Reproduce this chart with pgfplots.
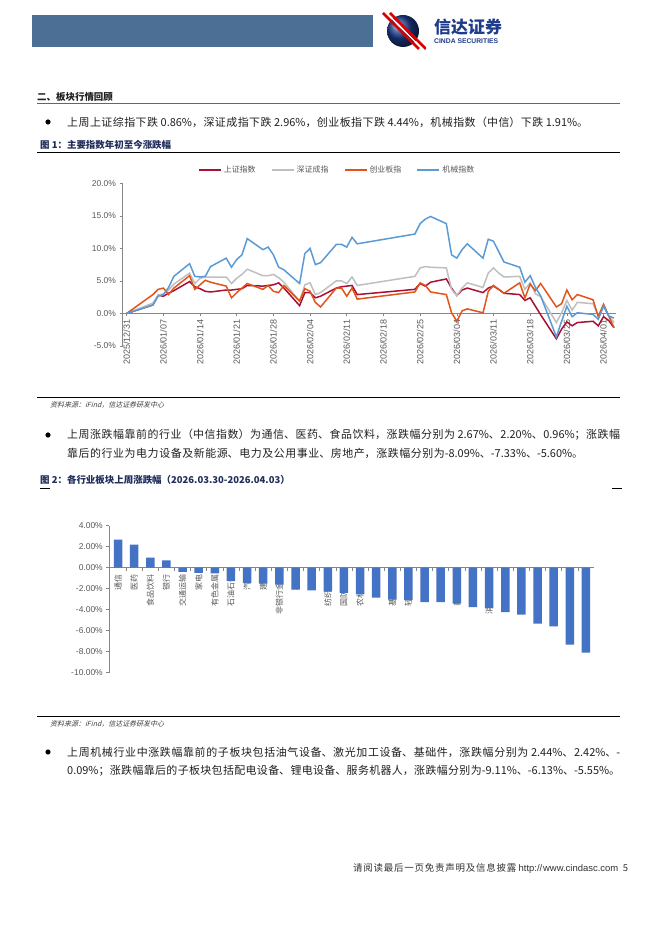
\documentclass[border=0pt]{standalone}
\usepackage{pgfplots}
\pgfplotsset{compat=1.18}
\usepackage{pgfplotstable}
\usepackage{fontspec}
\setmainfont{Noto Sans CJK SC}
\newfontfamily\arial{Liberation Sans}
\newfontfamily\cjkit{Noto Sans CJK SC}[FakeSlant=0.25]
\XeTeXlinebreaklocale "zh"
\XeTeXlinebreakskip=0.2pt plus 3pt minus 0.6pt

\definecolor{hdrblue}{RGB}{76,111,150}
\definecolor{navy}{RGB}{31,45,90}
\definecolor{logoblue}{RGB}{30,60,140}
\definecolor{shred}{RGB}{170,16,50}
\definecolor{szgray}{RGB}{191,191,191}
\definecolor{cyorange}{RGB}{226,84,26}
\definecolor{jxblue}{RGB}{91,155,213}
\definecolor{barblue}{RGB}{68,114,196}
\definecolor{txtgray}{RGB}{89,89,89}
\definecolor{axgray}{RGB}{134,134,134}
\definecolor{bodytxt}{RGB}{35,31,32}

\pgfplotstableread{
d sh sz cy jx
0 0 0 0 0
5 1.3 1.6 2.9 1.3
6 2.8 2.8 3.7 2.65
7 2.65 3.0 3.9 2.9
8 3.1 3.6 2.9 4.0
9 3.5 4.5 3.9 5.7
12 4.9 6.2 5.8 7.65
13 4.1 4.6 3.7 5.7
14 3.8 5.4 4.4 5.6
15 3.4 5.6 5.1 5.7
16 3.3 5.6 4.8 7.2
19 3.6 5.6 4.2 8.5
20 3.6 4.6 2.4 7.1
21 3.7 5.4 3.2 8.3
22 3.8 6.0 3.9 9.0
23 4.3 6.8 4.6 11.5
26 4.2 5.8 3.7 9.8
27 4.3 5.8 4.3 10.2
28 4.4 6.0 3.4 9.0
29 4.7 5.5 3.2 7.1
30 3.9 4.8 4.3 6.7
33 1.2 1.9 1.9 4.6
34 3.2 4.4 3.8 9.2
35 3.2 4.7 3.4 10.0
36 2.4 2.9 1.7 7.5
37 2.65 3.2 1.0 7.8
40 3.9 5.0 3.9 10.6
41 4.1 5.0 3.9 10.6
42 4.2 4.6 2.65 10.2
43 4.3 5.6 3.9 11.7
44 2.9 4.3 2.2 10.7
55 3.7 5.7 3.3 12.2
56 4.6 7.0 4.7 13.8
57 4.2 7.2 4.3 14.5
58 4.8 7.1 3.3 14.9
61 5.3 7.0 2.9 13.8
62 3.9 3.7 0.1 9.0
63 2.75 2.75 -1.2 8.5
64 3.6 3.9 0.4 9.8
65 3.9 4.7 0.7 10.7
68 3.2 4.0 0.1 8.5
69 3.9 6.2 3.4 11.4
70 4.2 7.0 4.3 11.1
71 3.7 6.2 3.7 9.5
72 3.1 5.6 3.1 7.9
75 2.9 5.7 4.7 7.1
76 2.0 3.7 2.4 4.8
77 2.4 4.7 4.5 5.8
78 1.1 3.0 3.5 4.0
79 -0.2 2.6 4.6 2.7
82 -3.9 -1.4 1.0 -3.6
83 -2.4 0.1 1.5 -1.2
84 -1.3 2.0 3.6 1.1
85 -1.9 0.5 2.1 -0.5
86 -1.4 1.7 2.9 0.1
89 -1.2 1.5 2.1 -0.15
90 -1.9 -0.4 -0.5 -0.9
91 -0.5 1.3 1.4 1.1
92 -1.1 -0.4 -0.4 -0.4
93 -2.2 -1.4 -2.2 -0.7
}\idxdata

\pgfplotstableread{
i v
0 2.67
1 2.20
2 0.96
3 0.70
4 -0.41
5 -0.50
6 -0.55
7 -1.27
8 -1.46
9 -1.52
10 -1.62
11 -2.10
12 -2.16
13 -2.29
14 -2.41
15 -2.54
16 -2.86
17 -3.05
18 -3.10
19 -3.27
20 -3.27
21 -3.43
22 -3.76
23 -3.86
24 -4.22
25 -4.48
26 -5.33
27 -5.60
28 -7.33
29 -8.09
}\inddata

\newcommand{\bodyfont}{\fontsize{11}{12}\selectfont}
\newcommand{\jline}[2]{\parbox{#1}{\parfillskip=0pt\parindent=0pt\rightskip=0pt\leftskip=0pt #2\par}}

\begin{document}
\begin{tikzpicture}[x=1bp,y=1bp]
\fill[white] (0,0) rectangle (662,936);

% header
\fill[hdrblue] (32,921) rectangle (373,889);
\shade[ball color=logoblue] (403,905) circle (16);
\begin{scope}
\clip (380,925) rectangle (426,884);
\draw[line width=2.6bp, red!85!black] (383,923) -- (419,887);
\draw[line width=1.2bp, white] (386.5,923) -- (422.5,887);
\draw[line width=2.6bp, red!85!black] (390,923) -- (426,887);
\end{scope}
\node[anchor=west, inner sep=0, text=logoblue, font=\bfseries\fontsize{17}{17}\selectfont] at (434,908.5) {信达证券};
\node[anchor=west, inner sep=0, text=logoblue, font=\arial\bfseries\fontsize{6.8}{7}\selectfont] at (434,894.5) {CINDA SECURITIES};

% section heading
\node[anchor=west, inner sep=0, text=bodytxt, font=\bfseries\fontsize{9.5}{10}\selectfont] at (37,839.5) {二、板块行情回顾};
\draw[line width=0.5bp, black!60] (37,833) -- (620,833);

% bullet 1
\fill[black] (48,814) circle (2.6);
\node[anchor=west, inner sep=0, text=bodytxt, font=\bodyfont] at (67,814) {\jline{521bp}{上周上证综指下跌 0.86\%，深证成指下跌 2.96\%，创业板指下跌 4.44\%，机械指数（中信）下跌 1.91\%。}};

% figure 1 title
\node[anchor=west, inner sep=0, text=navy, font=\bfseries\fontsize{9.5}{10}\selectfont] at (40,791) {图 1：主要指数年初至今涨跌幅};
\draw[line width=1bp, black] (37,783) -- (620,783);

\begin{axis}[
  at={(122.5bp,590bp)}, anchor=south west, scale only axis,
  width=493.6bp, height=162.7bp,
  xmin=-0.8, xmax=93.4, ymin=-5, ymax=20,
  axis x line=middle, axis y line=left,
  axis line style={-, draw=axgray, line width=0.6bp},
  hide obscured x ticks=false, hide obscured y ticks=false,
  xtick={0,7,...,91},
  xticklabels={2025/12/31,2026/01/07,2026/01/14,2026/01/21,2026/01/28,2026/02/04,2026/02/11,2026/02/18,2026/02/25,2026/03/04,2026/03/11,2026/03/18,2026/03/25,2026/04/01},
  xticklabel style={rotate=90, anchor=east, font=\arial\fontsize{9}{9}\selectfont, text=txtgray},
  ytick={-5,0,...,20},
  yticklabel={\pgfmathprintnumber[fixed,fixed zerofill,precision=1,assume math mode=true]{\tick}\%},
  yticklabel style={font=\arial\fontsize{8.5}{9}\selectfont, text=txtgray},
  tick style={draw=axgray, line width=0.6bp},
  major tick length=3bp,
  xtick align=outside, ytick align=outside,
  legend style={at={(0.4346,1.082)}, anchor=center, draw=none, fill=none,
    legend columns=4, font=\fontsize{8}{8}\selectfont, text=txtgray,
    /tikz/every even column/.append style={column sep=13bp}},
  legend image code/.code={\draw[#1, line width=2bp] (0bp,0bp) -- (22bp,0bp);},
]
\addplot[shred, line width=1.5bp] table[x=d,y=sh]{\idxdata};
\addlegendentry{上证指数}
\addplot[szgray, line width=1.5bp] table[x=d,y=sz]{\idxdata};
\addlegendentry{深证成指}
\addplot[cyorange, line width=1.5bp] table[x=d,y=cy]{\idxdata};
\addlegendentry{创业板指}
\addplot[jxblue, line width=1.5bp] table[x=d,y=jx]{\idxdata};
\addlegendentry{机械指数}
\end{axis}

% source 1
\draw[line width=0.8bp, black] (37,538.3) -- (620,538.3);
\node[anchor=west, inner sep=0, text=black!75, font=\cjkit\fontsize{7}{8}\selectfont] at (50,531) {资料来源：iFind，信达证券研发中心};

% bullet 2
\fill[black] (48,501) circle (2.6);
\node[anchor=west, inner sep=0, text=bodytxt, font=\bodyfont] at (67,501) {\jline{553bp}{上周涨跌幅靠前的行业（中信指数）为通信、医药、食品饮料，涨跌幅分别为 2.67\%、2.20\%、0.96\%；涨跌幅}};
\node[anchor=west, inner sep=0, text=bodytxt, font=\bodyfont] at (67,483) {\jline{516bp}{靠后的行业为电力设备及新能源、电力及公用事业、房地产，涨跌幅分别为-8.09\%、-7.33\%、-5.60\%。}};

% figure 2 title
\node[anchor=west, inner sep=0, text=navy, font=\bfseries\fontsize{9.5}{10}\selectfont] at (40,456) {图 2：各行业板块上周涨跌幅（2026.03.30-2026.04.03）};
\draw[line width=0.8bp, black] (40,448) -- (50,448);
\draw[line width=0.8bp, black] (612,448) -- (622,448);

\begin{axis}[
  at={(109.3bp,263.3bp)}, anchor=south west, scale only axis,
  width=484.7bp, height=147bp,
  xmin=-0.54, xmax=29.5, ymin=-10, ymax=4,
  axis x line=middle, axis y line=left,
  axis line style={-, draw=axgray, line width=0.6bp},
  hide obscured x ticks=false, hide obscured y ticks=false,
  ybar, bar width=8.5bp,
  xtick={0,...,29},
  xticklabels={通信,医药,食品饮料,银行,交通运输,家电,有色金属,石油石化,汽车,建筑,非银行金融,机械,钢铁,纺织服装,国防军工,农林牧渔,煤炭,基础化工,轻工制造,综合,建材,商贸零售,综合金融,消费者服务,传媒,电子,计算机,房地产,电力及公用事业,电力设备及新能源},
  xticklabel style={rotate=90, anchor=east, font=\fontsize{8}{8}\selectfont, text=txtgray},
  major x tick style={draw=none},
  minor x tick num=1,
  minor tick length=3bp,
  minor x tick style={draw=axgray, line width=0.6bp},
  ytick={-10,-8,...,4},
  yticklabel={\pgfmathprintnumber[fixed,fixed zerofill,precision=2,assume math mode=true]{\tick}\%},
  yticklabel style={font=\arial\fontsize{8.5}{9}\selectfont, text=txtgray},
  major y tick style={draw=axgray, line width=0.6bp},
  major tick length=3bp,
  xtick align=outside, ytick align=outside,
]
\addplot[fill=barblue, draw=none] table[x=i,y=v]{\inddata};
\end{axis}

% source 2
\draw[line width=0.8bp, black] (37,219.3) -- (620,219.3);
\node[anchor=west, inner sep=0, text=black!75, font=\cjkit\fontsize{7}{8}\selectfont] at (50,212) {资料来源：iFind，信达证券研发中心};

% bullet 3
\fill[black] (48,184) circle (2.6);
\node[anchor=west, inner sep=0, text=bodytxt, font=\bodyfont] at (67,184) {\jline{553bp}{上周机械行业中涨跌幅靠前的子板块包括油气设备、激光加工设备、基础件，涨跌幅分别为 2.44\%、2.42\%、-}};
\node[anchor=west, inner sep=0, text=bodytxt, font=\bodyfont] at (67,165) {\jline{553bp}{0.09\%；涨跌幅靠后的子板块包括配电设备、锂电设备、服务机器人，涨跌幅分别为-9.11\%、-6.13\%、-5.55\%。}};

% footer
\node[anchor=west, inner sep=0, text=black!80, font=\fontsize{9.5}{10}\selectfont] at (353,68) {\jline{275bp}{请阅读最后一页免责声明及信息披露 {\arial http://www.cindasc.com}\ \ 5}};
\end{tikzpicture}
\end{document}
